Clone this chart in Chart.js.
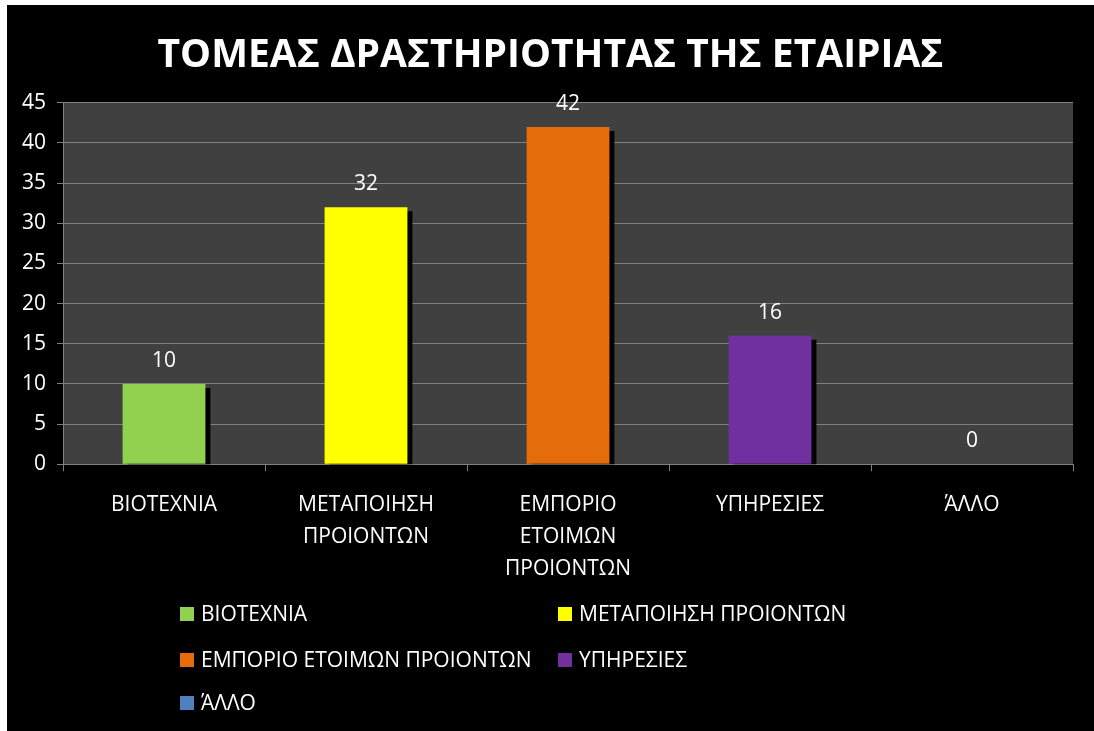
<!DOCTYPE html>
<html lang="el">
<head>
  <meta charset="UTF-8" />
  <title>Τομέας δραστηριότητας</title>
  <script src="https://cdn.jsdelivr.net/npm/chart.js"></script>
  <style>
    html, body { margin: 0; padding: 0; background: #fff; }
    .marco { position: absolute; left: 7px; top: 5px; width: 1087px; height: 726px; background: #000; }
  </style>
</head>
<body>
<div class="marco">
  <canvas id="grafico" width="1087" height="726"></canvas>
</div>
<script>
  const categorias = [["ΒΙΟΤΕΧΝΙΑ"], ["ΜΕΤΑΠΟΙΗΣΗ", "ΠΡΟΙΟΝΤΩΝ"], ["ΕΜΠΟΡΙΟ", "ΕΤΟΙΜΩΝ", "ΠΡΟΙΟΝΤΩΝ"], ["ΥΠΗΡΕΣΙΕΣ"], ["ΆΛΛΟ"]];
  const leyenda = ["ΒΙΟΤΕΧΝΙΑ", "ΜΕΤΑΠΟΙΗΣΗ ΠΡΟΙΟΝΤΩΝ", "ΕΜΠΟΡΙΟ ΕΤΟΙΜΩΝ ΠΡΟΙΟΝΤΩΝ", "ΥΠΗΡΕΣΙΕΣ", "ΆΛΛΟ"];
  const valores = [10, 32, 42, 16, 0];
  const colores = ["#92D050", "#FFFF00", "#E46C0A", "#7030A0", "#4F81BD"];
  const ticksY = [0, 5, 10, 15, 20, 25, 30, 35, 40, 45];

  const fuente = "'Open Sans', sans-serif";

  // fondo gris del área de trazado
  const fondoArea = {
    id: "fondoArea",
    beforeDraw(chart) {
      const { ctx, chartArea: a } = chart;
      ctx.save();
      ctx.fillStyle = "#404040";
      ctx.fillRect(a.left, a.top, a.right - a.left, a.bottom - a.top);
      ctx.restore();
    }
  };

  // sombra negra de las barras
  const sombra = {
    id: "sombra",
    beforeDatasetDraw(chart) {
      const ctx = chart.ctx;
      ctx.save();
      ctx.shadowColor = "#000";
      ctx.shadowBlur = 0;
      ctx.shadowOffsetX = 5;
      ctx.shadowOffsetY = 4;
    },
    afterDatasetDraw(chart) {
      chart.ctx.restore();
    }
  };

  // valores encima de las barras
  const etiquetas = {
    id: "etiquetas",
    afterDatasetsDraw(chart) {
      const ctx = chart.ctx;
      ctx.save();
      ctx.font = "21px " + fuente;
      ctx.fillStyle = "#fff";
      ctx.textAlign = "center";
      ctx.textBaseline = "middle";
      chart.getDatasetMeta(0).data.forEach((bar, i) => {
        ctx.fillText(String(valores[i]), bar.x, bar.y - 23);
      });
      ctx.restore();
    }
  };

  // leyenda en dos columnas
  const leyendaCols = {
    id: "leyendaCols",
    afterDraw(chart) {
      const ctx = chart.ctx;
      ctx.save();
      ctx.font = "21px " + fuente;
      ctx.textBaseline = "middle";
      const colX = [173, 551];
      const filaY = [609, 655, 698];
      leyenda.forEach((txt, i) => {
        const x = colX[i % 2];
        const y = filaY[Math.floor(i / 2)];
        ctx.fillStyle = colores[i];
        ctx.fillRect(x, y - 7, 14, 14);
        ctx.fillStyle = "#fff";
        ctx.fillText(txt, x + 21, y + 1);
      });
      ctx.restore();
    }
  };

  new Chart(document.getElementById("grafico"), {
    type: "bar",
    data: {
      labels: categorias,
      datasets: [{
        data: valores,
        backgroundColor: colores,
        borderWidth: 0,
        categoryPercentage: 1,
        barPercentage: 0.41
      }]
    },
    options: {
      responsive: false,
      animation: false,
      layout: { padding: { top: 0, right: 0, bottom: 128, left: 0 } },
      plugins: {
        legend: { display: false },
        tooltip: { enabled: false },
        title: {
          display: true,
          text: "ΤΟΜΕΑΣ ΔΡΑΣΤΗΡΙΟΤΗΤΑΣ ΤΗΣ ΕΤΑΙΡΙΑΣ",
          color: "#fff",
          font: { family: fuente, size: 39, weight: "bold" },
          padding: { top: 27, bottom: 24 }
        }
      },
      scales: {
        x: {
          grid: { drawOnChartArea: false, color: "#808080", tickLength: 7 },
          border: { color: "#808080" },
          ticks: {
            color: "#fff",
            font: { family: fuente, size: 21, lineHeight: 1.52 },
            padding: 18,
            maxRotation: 0
          }
        },
        y: {
          min: 0,
          max: 45,
          afterBuildTicks(scale) { scale.ticks = ticksY.map(v => ({ value: v })); },
          afterFit(scale) { scale.width = 56; },
          grid: { color: "#808080", tickLength: 6 },
          border: { color: "#808080" },
          ticks: {
            color: "#fff",
            font: { family: fuente, size: 21 },
            padding: 11
          }
        },
        // eje vacío a la derecha, solo reserva el margen
        margen: {
          position: "right",
          min: 0,
          max: 45,
          afterFit(scale) { scale.width = 21; },
          grid: { display: false },
          border: { display: false },
          ticks: { display: false }
        }
      }
    },
    plugins: [fondoArea, sombra, etiquetas, leyendaCols]
  });
</script>
</body>
</html>
